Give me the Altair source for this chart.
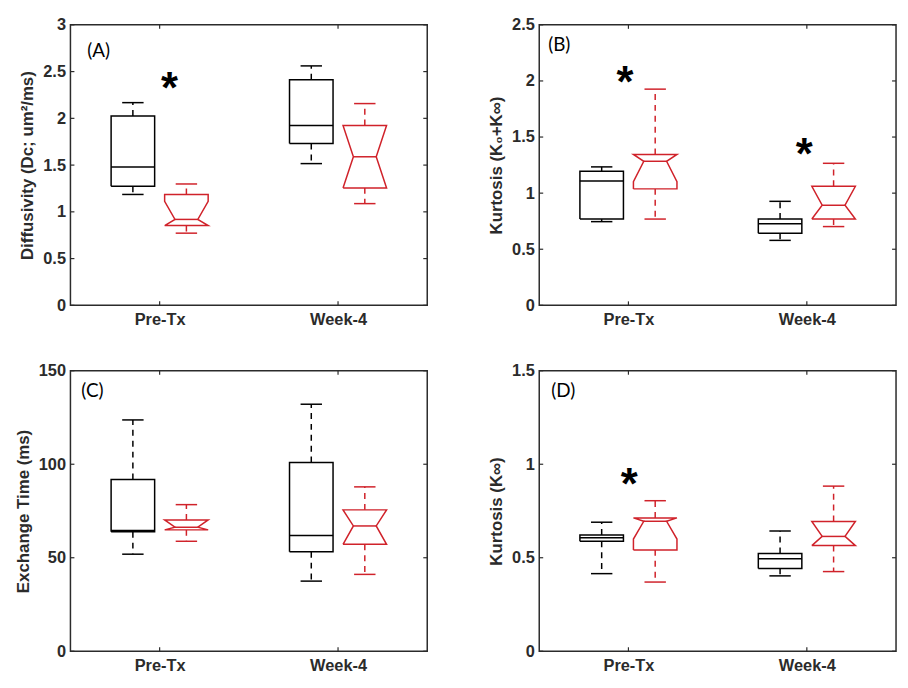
import altair as alt
import pandas as pd

# ---------------- data ----------------
groups = ["Pre-Tx", "Week-4"]
group_pos = [1, 2]
# box order: Pre-Tx black, Pre-Tx red, Week-4 black, Week-4 red
box_group = [1, 1, 2, 2]
box_series = ["black", "red", "black", "red"]

# Panel A - Diffusivity
A_lower = [1.186, 0.772, 1.516, 1.088]
A_q1 = [1.274, 0.853, 1.730, 1.256]
A_median = [1.480, 0.919, 1.923, 1.589]
A_q3 = [2.025, 1.186, 2.414, 1.923]
A_upper = [2.168, 1.298, 2.561, 2.158]
A_notch_lo = [None, 0.853, None, 1.256]
A_notch_hi = [None, 1.112, None, 1.923]

# Panel B - Kurtosis (K0+Kinf)
B_lower = [0.746, 0.769, 0.579, 0.702]
B_q1 = [0.769, 1.038, 0.643, 0.769]
B_median = [1.108, 1.284, 0.728, 0.892]
B_q3 = [1.196, 1.345, 0.769, 1.061]
B_upper = [1.234, 1.927, 0.927, 1.266]
B_notch_lo = [None, 1.102, None, 0.769]
B_notch_hi = [None, 1.345, None, 1.061]

# Panel C - Exchange time
C_lower = [51.9, 58.8, 37.5, 41.1]
C_q1 = [63.9, 64.9, 53.2, 57.2]
C_median = [64.6, 66.3, 61.9, 67.0]
C_q3 = [91.9, 70.2, 100.9, 75.6]
C_upper = [123.7, 78.4, 132.1, 87.9]
C_notch_lo = [None, 64.9, None, 57.2]
C_notch_hi = [None, 70.2, None, 75.6]

# Panel D - Kurtosis (Kinf)
D_lower = [0.415, 0.370, 0.403, 0.426]
D_q1 = [0.588, 0.542, 0.443, 0.565]
D_median = [0.607, 0.695, 0.495, 0.614]
D_q3 = [0.622, 0.713, 0.523, 0.694]
D_upper = [0.690, 0.805, 0.643, 0.883]
D_notch_lo = [None, 0.600, None, 0.565]
D_notch_hi = [None, 0.713, None, 0.694]

panel_titles = ["Diffusivity (Dᴄ; um²/ms)", "Kurtosis (K₀+K∞)",
                "Exchange Time (ms)", "Kurtosis (K∞)"]
panel_domains = [[0, 3], [0, 2.5], [0, 150], [0, 1.5]]
panel_ticks = [[0, 0.5, 1, 1.5, 2, 2.5, 3],
               [0, 0.5, 1, 1.5, 2, 2.5],
               [0, 50, 100, 150],
               [0, 0.5, 1, 1.5]]
panel_letters = ["(A)", "(B)", "(C)", "(D)"]
letter_x = [0.594, 0.55, 0.561, 0.567]
letter_y = [2.716, 2.319, 138.9, 1.39]
star_x = [[1.055], [0.98, 1.985], [], [1.005]]
star_y = [[2.43], [2.076, 1.433], [], [0.947]]

stats = [
    (A_lower, A_q1, A_median, A_q3, A_upper, A_notch_lo, A_notch_hi),
    (B_lower, B_q1, B_median, B_q3, B_upper, B_notch_lo, B_notch_hi),
    (C_lower, C_q1, C_median, C_q3, C_upper, C_notch_lo, C_notch_hi),
    (D_lower, D_q1, D_median, D_q3, D_upper, D_notch_lo, D_notch_hi),
]

# ---------------- layout constants ----------------
W, H = 360, 283
OFFSET = 0.15      # box centre offset from group position
HALF = 0.122       # half box width
INDENT = 0.064     # half width at notch
CAP = 0.06         # half whisker-cap width
TICK = 4           # inner tick length (px)
RED = "#d0222a"
INK = "#2b2b2b"

color_enc = alt.Color("series:N",
                      scale=alt.Scale(domain=["black", "red"], range=["#000000", RED]),
                      legend=None)
label_expr = " : ".join(
    [f"datum.value == {p} ? '{g}'" for p, g in zip(group_pos[:-1], groups[:-1])]
    + [f"'{groups[-1]}'"]
)


def make_panel(i):
    lower, q1, med, q3, upper, nlo, nhi = stats[i]
    title = panel_titles[i]
    dom = panel_domains[i]

    xenc = alt.X("x:Q", scale=alt.Scale(domain=[0.5, 2.5], nice=False), title=None,
                 axis=alt.Axis(values=group_pos, labelExpr=label_expr, labelFlush=False))
    yenc = alt.Y("y:Q", scale=alt.Scale(domain=dom, nice=False), title=title,
                 axis=alt.Axis(values=panel_ticks[i], format="~r"))

    outline, medians, whiskers, caps = [], [], [], []
    for b in range(4):
        cx = box_group[b] + (-OFFSET if box_series[b] == "black" else OFFSET)
        L, R = cx - HALF, cx + HALF
        notched = nlo[b] is not None
        lo = nlo[b] if notched else med[b]
        hi = nhi[b] if notched else med[b]
        IL = cx - INDENT if notched else L
        IR = cx + INDENT if notched else R
        pts = [(L, q1[b]), (L, lo), (IL, med[b]), (L, hi), (L, q3[b]),
               (R, q3[b]), (R, hi), (IR, med[b]), (R, lo), (R, q1[b]), (L, q1[b])]
        for k, (px, py) in enumerate(pts):
            outline.append({"box": b, "order": k, "x": px, "y": py, "series": box_series[b]})
        medians.append({"x": IL, "x2": IR, "y": med[b], "series": box_series[b]})
        whiskers.append({"x": cx, "y": q3[b], "y2": upper[b], "series": box_series[b]})
        whiskers.append({"x": cx, "y": q1[b], "y2": lower[b], "series": box_series[b]})
        caps.append({"x": cx - CAP, "x2": cx + CAP, "y": upper[b], "series": box_series[b]})
        caps.append({"x": cx - CAP, "x2": cx + CAP, "y": lower[b], "series": box_series[b]})

    base_line = alt.Chart(pd.DataFrame(outline)).mark_line(strokeWidth=1.5, strokeJoin="miter").encode(
        x=xenc, y=yenc, color=color_enc, detail="box:N", order="order:Q")
    med_layer = alt.Chart(pd.DataFrame(medians)).mark_rule(strokeWidth=1.5).encode(
        x=xenc, x2="x2:Q", y=yenc, color=color_enc)
    whisk_layer = alt.Chart(pd.DataFrame(whiskers)).mark_rule(strokeWidth=1.5, strokeDash=[6, 5]).encode(
        x=xenc, y=yenc, y2="y2:Q", color=color_enc)
    cap_layer = alt.Chart(pd.DataFrame(caps)).mark_rule(strokeWidth=1.5).encode(
        x=xenc, x2="x2:Q", y=yenc, color=color_enc)

    ytick_df = pd.DataFrame({"y": panel_ticks[i]})
    xtick_df = pd.DataFrame({"x": group_pos})
    yt_left = alt.Chart(ytick_df).mark_rule(color=INK, strokeWidth=1.2).encode(
        x=alt.value(0), x2=alt.value(TICK), y=yenc)
    yt_right = alt.Chart(ytick_df).mark_rule(color=INK, strokeWidth=1.2).encode(
        x=alt.value(W), x2=alt.value(W - TICK), y=yenc)
    xt_bot = alt.Chart(xtick_df).mark_rule(color=INK, strokeWidth=1.2).encode(
        y=alt.value(H), y2=alt.value(H - TICK), x=xenc)
    xt_top = alt.Chart(xtick_df).mark_rule(color=INK, strokeWidth=1.2).encode(
        y=alt.value(0), y2=alt.value(TICK), x=xenc)

    letter = alt.Chart(pd.DataFrame({"x": [letter_x[i]], "y": [letter_y[i]],
                                     "t": [panel_letters[i]]})).mark_text(
        font="Lato", fontSize=19, align="left", baseline="middle", color="#000000").encode(
        x=xenc, y=yenc, text="t:N")

    layers = [yt_left, yt_right, xt_bot, xt_top, base_line, med_layer, whisk_layer, cap_layer, letter]
    if star_x[i]:
        stars = alt.Chart(pd.DataFrame({"x": star_x[i], "y": star_y[i], "t": ["*"] * len(star_x[i])})).mark_text(
            font="Liberation Sans", fontWeight="bold", fontSize=44, align="center",
            baseline="alphabetic", dy=25, color="#000000").encode(x=xenc, y=yenc, text="t:N")
        layers.append(stars)
    return alt.layer(*layers).properties(width=W, height=H)


panels = [make_panel(i) for i in range(4)]

chart = alt.concat(*panels, columns=2, spacing={"row": 33, "column": 58}).properties(
    padding={"left": 5, "top": 5, "right": 2, "bottom": 0}
).configure_axis(
    labelFont="Liberation Sans", labelFontSize=16.5, labelFontWeight="bold", labelColor=INK,
    titleFont="Liberation Sans", titleFontSize=17, titleFontWeight="bold", titleColor=INK,
    grid=False, ticks=False, tickSize=0, domain=False, labelPadding=5, titlePadding=6
).configure_axisX(labelPadding=6).configure_view(stroke=INK, strokeWidth=1.5)

chart.save("out.html", embed_options={"renderer": "svg", "actions": False})
